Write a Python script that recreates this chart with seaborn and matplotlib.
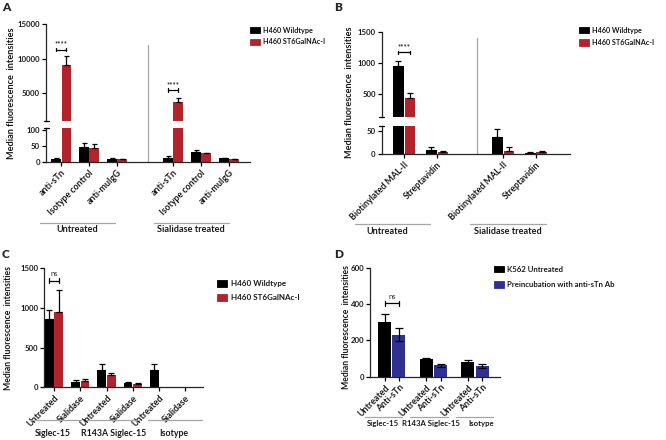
import matplotlib
matplotlib.use("Agg")
import matplotlib.pyplot as plt
import seaborn as sns
import pandas as pd
from matplotlib.lines import Line2D
from matplotlib.patches import Patch

W, H = 666, 440
sns.set_theme(style="ticks")
plt.rcParams['font.family'] = ['Lato', 'DejaVu Sans']
plt.rcParams['font.weight'] = 'bold'
plt.rcParams['axes.linewidth'] = 0.9

BLACK = "#000000"
RED = "#b3232b"
BLUE = "#2e3192"
GREY = "#a6a6a6"
TXT = "#1a1a1a"

# ---------------- data ----------------
lines_AB = ["H460 Wildtype", "H460 ST6GalNAc-I"]
treat_AB = ["Untreated", "Sialidase treated"]

A_probes = ["anti-sTn", "Isotype control", "anti-muIgG"]
A_wt_mean = [10, 48, 10, 14, 30, 11]
A_wt_sd = [3, 12, 2, 6, 8, 3]
A_st_mean = [9100, 43, 9, 3750, 27, 8]
A_st_sd = [1300, 12, 1, 500, 1, 2]

B_probes = ["Biotinylated MAL-II", "Streptavidin"]
B_wt_mean = [947, 10, 36, 3.5]
B_wt_sd = [80, 5, 17, 1]
B_st_mean = [430, 5, 7, 4]
B_st_sd = [90, 1, 8, 3]

C_groups = ["Siglec-15", "R143A Siglec-15", "Isotype"]
C_conds = ["Untreated", "Sialidase"]
C_wt_mean = [856, 70, 218, 50, 218, 4]
C_wt_sd = [117, 25, 70, 12, 70, 0]
C_st_mean = [952, 80, 151, 38, 5, 2]
C_st_sd = [273, 25, 35, 12, 0, 0]

D_groups = ["Siglec-15", "R143A Siglec-15", "Isotype"]
D_lines = ["K562 Untreated", "Preincubation with anti-sTn Ab"]
D_ticks = ["Untreated", "Anti-sTn"]
D_untr_mean = [301, 100, 83]
D_untr_sd = [43, 3, 7]
D_anti_mean = [232, 62, 58]
D_anti_sd = [38, 9, 10]

# ---------------- helpers ----------------
fig = plt.figure(figsize=(W / 100, H / 100), dpi=100)


def px_axes(left, top, right, bottom):
    ax = fig.add_axes([left / W, 1 - bottom / H, (right - left) / W, (bottom - top) / H])
    ax.set_facecolor("none")
    return ax


def fx(x):
    return x / W


def fy(y):
    return 1 - y / H


def fig_line(x0, y0, x1, y1, color="black", lw=0.9):
    fig.add_artist(Line2D([fx(x0), fx(x1)], [fy(y0), fy(y1)], color=color, lw=lw))


def style_ax(ax):
    sns.despine(ax=ax)
    ax.tick_params(axis="both", length=3, width=0.9, pad=1.5, labelsize=5.6, colors="black",
                   labelcolor=TXT)
    ax.set_xlabel("")
    ax.set_ylabel("")
    ax.grid(False)


def add_errors(ax, err_lookup, hue_order, both=False, capsize=1.8):
    for cont, hue in zip(ax.containers, hue_order):
        for bar in cont:
            cx = bar.get_x() + bar.get_width() / 2
            key = (int(round(cx)), hue)
            if key not in err_lookup:
                continue
            m, s = err_lookup[key]
            if s <= 0:
                continue
            lower = s if both else 0
            ax.errorbar([cx], [m], yerr=[[lower], [s]], fmt="none", ecolor="black",
                        elinewidth=0.9, capsize=capsize, capthick=0.9, zorder=3)


def bracket(ax, x0, x1, y, h, text, fs=5.5, dy=0, weight="bold"):
    ax.plot([x0, x1], [y, y], color="black", lw=0.9, clip_on=False)
    ax.plot([x0, x0], [y - h, y + h], color="black", lw=0.9, clip_on=False)
    ax.plot([x1, x1], [y - h, y + h], color="black", lw=0.9, clip_on=False)
    ax.text((x0 + x1) / 2, y + h + dy, text, ha="center", va="bottom", fontsize=fs,
            fontweight=weight, color="#333333", clip_on=False)


def bar_centers(ax, hue_order):
    out = {}
    for cont, hue in zip(ax.containers, hue_order):
        for bar in cont:
            cx = bar.get_x() + bar.get_width() / 2
            out[(int(round(cx)), hue)] = cx
    return out


def legend_at(ax, labels, colors, x, y, spacing, fs=5.2):
    handles = [Patch(facecolor=c, edgecolor="black" if c == BLACK else c, lw=0.6) for c in colors]
    leg = ax.legend(handles, labels, loc="upper left", bbox_to_anchor=(fx(x), fy(y)),
                    bbox_transform=fig.transFigure, frameon=False, fontsize=fs, borderpad=0,
                    borderaxespad=0, handlelength=10 / (fs * 1.389), handleheight=7 / (fs * 1.389),
                    handletextpad=0.45, labelspacing=spacing)
    for t in leg.get_texts():
        t.set_color(TXT)


def ylabel(x, y, fs=6.6):
    fig.text(fx(x), fy(y), "Median fluorescence  intensities", rotation=90,
             ha="center", va="center", fontsize=fs, color=TXT)


def label_text(x, y, s, fs=6.6):
    fig.text(fx(x), fy(y), s, ha="center", va="center", fontsize=fs, color=TXT)


# ---------------- Panel A ----------------
A_order = [f"{t}|{p}" for t in treat_AB[:1] for p in A_probes] + ["gap"] + \
          [f"{t}|{p}" for t in treat_AB[1:] for p in A_probes]
A_keys = [k for k in A_order if k != "gap"]
dfA = pd.DataFrame({
    "pos": A_keys * 2,
    "line": [lines_AB[0]] * 6 + [lines_AB[1]] * 6,
    "value": A_wt_mean + A_st_mean,
})
errA = {}
for i, k in enumerate(A_keys):
    idx = A_order.index(k)
    errA[(idx, lines_AB[0])] = (A_wt_mean[i], A_wt_sd[i])
    errA[(idx, lines_AB[1])] = (A_st_mean[i], A_st_sd[i])

axA_hi = px_axes(46, 24, 250, 121)
axA_lo = px_axes(46, 128.4, 250, 162)
for ax in (axA_hi, axA_lo):
    sns.barplot(data=dfA, x="pos", y="value", hue="line", order=A_order, hue_order=lines_AB,
                palette=[BLACK, RED], width=0.72, gap=0.08, errorbar=None, saturation=1,
                linewidth=0, legend=False, ax=ax)
    add_errors(ax, errA, lines_AB, capsize=1.8)
    style_ax(ax)
    ax.set_xlim(-0.54, 6.75)
axA_hi.set_ylim(1000, 15000)
axA_hi.set_yticks([5000, 10000, 15000])
axA_hi.spines["bottom"].set_visible(False)
axA_hi.tick_params(axis="x", bottom=False, labelbottom=False)
axA_lo.set_ylim(0, 105)
axA_lo.set_yticks([0, 50, 100])
ticksA = [i for i, k in enumerate(A_order) if k != "gap"]
axA_lo.set_xticks(ticksA)
axA_lo.set_xticklabels([k.split("|")[1] for k in A_order if k != "gap"], rotation=45,
                       ha="right", va="top", rotation_mode="anchor", fontsize=6.4)
axA_lo.axvline(3.1, 0, 3.48, color=GREY, lw=0.9, clip_on=False)
cA = bar_centers(axA_hi, lines_AB)
bracket(axA_hi, cA[(0, lines_AB[0])], cA[(0, lines_AB[1])], 11300, 250, "****", dy=50)
bracket(axA_hi, cA[(4, lines_AB[0])], cA[(4, lines_AB[1])], 5500, 250, "****", dy=50)
fig_line(43.5, 121, 48.5, 121)
fig_line(43.5, 128.4, 48.5, 128.4)
legend_at(axA_hi, lines_AB, [BLACK, RED], 250, 26.5, 0.65)
ylabel(11.5, 93)
fig_line(40, 222.5, 115, 222.5, color=GREY)
fig_line(154, 222.5, 229, 222.5, color=GREY)
label_text(77, 229.5, treat_AB[0])
label_text(191, 229.5, treat_AB[1])
fig.text(fx(2), fy(2), "A", ha="left", va="top", fontsize=8.5, fontweight="heavy")

# ---------------- Panel B ----------------
B_order = [f"{treat_AB[0]}|{p}" for p in B_probes] + ["gap"] + [f"{treat_AB[1]}|{p}" for p in B_probes]
B_keys = [k for k in B_order if k != "gap"]
dfB = pd.DataFrame({
    "pos": B_keys * 2,
    "line": [lines_AB[0]] * 4 + [lines_AB[1]] * 4,
    "value": B_wt_mean + B_st_mean,
})
errB = {}
for i, k in enumerate(B_keys):
    idx = B_order.index(k)
    errB[(idx, lines_AB[0])] = (B_wt_mean[i], B_wt_sd[i])
    errB[(idx, lines_AB[1])] = (B_st_mean[i], B_st_sd[i])

axB_hi = px_axes(382, 31.7, 570, 116.7)
axB_lo = px_axes(382, 126, 570, 154.3)
for ax in (axB_hi, axB_lo):
    sns.barplot(data=dfB, x="pos", y="value", hue="line", order=B_order, hue_order=lines_AB,
                palette=[BLACK, RED], width=0.7, gap=0.08, errorbar=None, saturation=1,
                linewidth=0, legend=False, ax=ax)
    add_errors(ax, errB, lines_AB, capsize=2)
    style_ax(ax)
    ax.set_xlim(-0.67, 5.03)
axB_hi.set_ylim(130, 1500)
axB_hi.set_yticks([500, 1000, 1500])
axB_hi.spines["bottom"].set_visible(False)
axB_hi.tick_params(axis="x", bottom=False, labelbottom=False)
axB_lo.set_ylim(0, 60)
axB_lo.set_yticks([0, 50])
ticksB = [i for i, k in enumerate(B_order) if k != "gap"]
axB_lo.set_xticks(ticksB)
axB_lo.set_xticklabels([k.split("|")[1] for k in B_order if k != "gap"], rotation=45,
                       ha="right", va="top", rotation_mode="anchor", fontsize=6.4)
axB_lo.axvline(2.2, 0, 4.11, color=GREY, lw=0.9, clip_on=False)
cB = bar_centers(axB_hi, lines_AB)
bracket(axB_hi, cB[(0, lines_AB[0])], cB[(0, lines_AB[1])], 1165, 25, "****", dy=5)
fig_line(379.5, 116.7, 384.5, 116.7)
fig_line(379.5, 126, 384.5, 126)
legend_at(axB_hi, lines_AB, [BLACK, RED], 579, 26.5, 0.75)
ylabel(350, 92.5)
fig_line(355, 224, 430, 224, color=GREY)
fig_line(470, 224, 546, 224, color=GREY)
label_text(387, 231, treat_AB[0])
label_text(508, 231, treat_AB[1])
fig.text(fx(334), fy(2), "B", ha="left", va="top", fontsize=8.5, fontweight="heavy")

# ---------------- Panel C ----------------
C_order = [f"{g}|{c}" for g in C_groups for c in C_conds]
dfC = pd.DataFrame({
    "pos": C_order * 2,
    "line": [lines_AB[0]] * 6 + [lines_AB[1]] * 6,
    "value": C_wt_mean + C_st_mean,
})
errC = {}
for i, k in enumerate(C_order):
    errC[(i, lines_AB[0])] = (C_wt_mean[i], C_wt_sd[i])
    errC[(i, lines_AB[1])] = (C_st_mean[i], C_st_sd[i])
axC = px_axes(44.3, 268.3, 203, 387.3)
sns.barplot(data=dfC, x="pos", y="value", hue="line", order=C_order, hue_order=lines_AB,
            palette=[BLACK, RED], width=0.72, gap=0.08, errorbar=None, saturation=1,
            linewidth=0, legend=False, ax=axC)
add_errors(axC, errC, lines_AB, capsize=2.3)
style_ax(axC)
axC.set_xlim(-0.37, 5.67)
axC.set_ylim(0, 1500)
axC.set_yticks([0, 500, 1000, 1500])
axC.set_xticks(range(len(C_order)))
axC.set_xticklabels([k.split("|")[1] for k in C_order], rotation=45,
                    ha="right", va="top", rotation_mode="anchor", fontsize=6.4)
cC = bar_centers(axC, lines_AB)
bracket(axC, cC[(0, lines_AB[0])], cC[(0, lines_AB[1])], 1345, 35, "ns", dy=5, weight="normal")
legend_at(axC, lines_AB, [BLACK, RED], 217, 280, 0.9, fs=5.8)
ylabel(8.5, 328, fs=6.2)
for (x0, x1), xc, lab in zip([(30, 81), (86, 139), (148, 202)], [53, 114, 174], C_groups):
    fig_line(x0, 420, x1, 420, color=GREY)
    label_text(xc, 433, lab, fs=6.3)
fig.text(fx(2), fy(249), "C", ha="left", va="top", fontsize=8.5, fontweight="heavy")

# ---------------- Panel D ----------------
dfD = pd.DataFrame({
    "group": D_groups * 2,
    "line": [D_lines[0]] * 3 + [D_lines[1]] * 3,
    "value": D_untr_mean + D_anti_mean,
})
errD = {}
for i, g in enumerate(D_groups):
    errD[(i, D_lines[0])] = (D_untr_mean[i], D_untr_sd[i])
    errD[(i, D_lines[1])] = (D_anti_mean[i], D_anti_sd[i])
axD = px_axes(370.3, 267.7, 500, 376.7)
sns.barplot(data=dfD, x="group", y="value", hue="line", order=D_groups, hue_order=D_lines,
            palette=[BLACK, BLUE], width=0.68, gap=0.08, errorbar=None, saturation=1,
            linewidth=0, legend=False, ax=axD)
add_errors(axD, errD, D_lines, both=True, capsize=2.8)
style_ax(axD)
axD.set_xlim(-0.52, 2.6)
axD.set_ylim(0, 600)
axD.set_yticks([0, 200, 400, 600])
cD = bar_centers(axD, D_lines)
tick_pos, tick_lab = [], []
for i in range(len(D_groups)):
    for j, ln in enumerate(D_lines):
        tick_pos.append(cD[(i, ln)])
        tick_lab.append(D_ticks[j])
axD.set_xticks(tick_pos)
axD.set_xticklabels(tick_lab, rotation=45, ha="right", va="top", rotation_mode="anchor",
                    fontsize=6.4)
bracket(axD, cD[(0, D_lines[0])], cD[(0, D_lines[1])], 405, 14, "ns", dy=2, weight="normal")
legend_at(axD, D_lines, [BLACK, BLUE], 494, 265.5, 1.1, fs=5.6)
ylabel(346.5, 327, fs=6.2)
for (x0, x1), xc, lab in zip([(365, 402), (410, 448), (456, 493)], [383, 431, 481], D_groups):
    fig_line(x0, 417, x1, 417, color=GREY)
    label_text(xc, 423.5, lab, fs=5.6)
fig.text(fx(334), fy(249), "D", ha="left", va="top", fontsize=8.5, fontweight="heavy")

fig.savefig("out.png", dpi=100)
